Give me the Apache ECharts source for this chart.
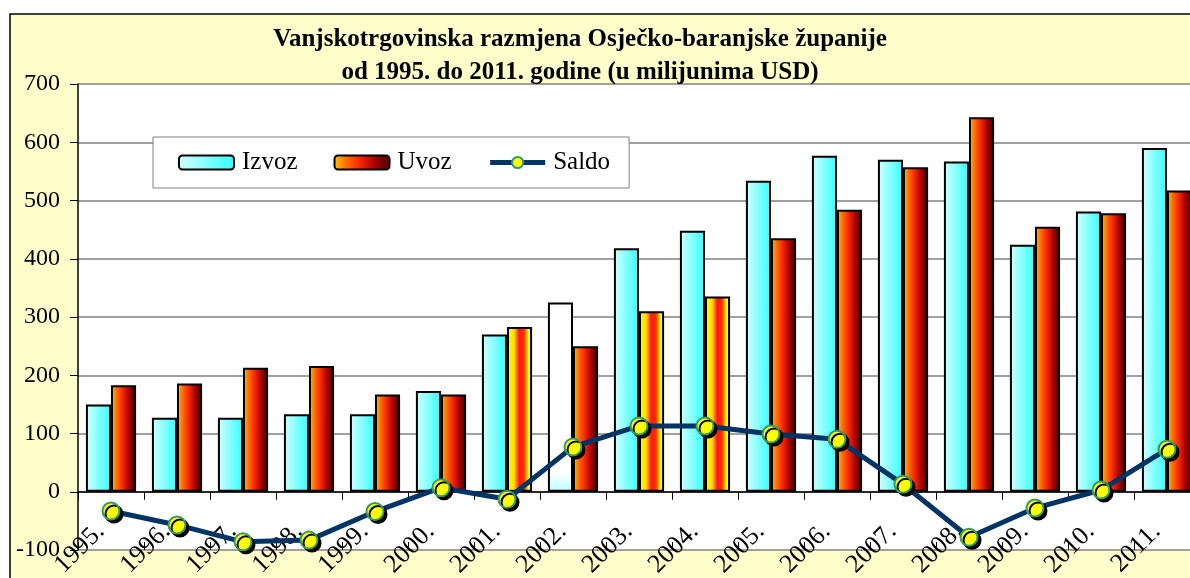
<!DOCTYPE html>
<html>
<head>
<meta charset="utf-8">
<script src="https://cdn.jsdelivr.net/npm/echarts@6/dist/echarts.min.js"></script>
<style>
  html, body { margin: 0; padding: 0; background: #fff; }
  #main { width: 1190px; height: 578px; }
</style>
</head>
<body>
<div id="main"></div>
<script>
// godine
var years = ['1995.', '1996.', '1997.', '1998.', '1999.', '2000.', '2001.', '2002.', '2003.',
             '2004.', '2005.', '2006.', '2007.', '2008.', '2009.', '2010.', '2011.'];
// u milijunima USD
var izvoz = [150, 127, 127, 133, 133, 173, 270, 325, 418, 448, 534, 577, 570, 567, 424, 481, 590];
var uvoz  = [183, 186, 213, 216, 167, 167, 283, 250, 310, 335, 435, 484, 557, 643, 455, 478, 517];
var saldo = [-33, -57, -86, -83, -34, 7, -13, 77, 113, 113, 99, 90, 13, -78, -28, 3, 73];
var yTicks = { min: -100, max: 700, step: 100 };

var serif = '"Liberation Serif", "Times New Roman", serif';

var cyanFill = new echarts.graphic.LinearGradient(0, 0, 1, 0, [
    { offset: 0, color: '#D4FFFF' },
    { offset: 1, color: '#33FFFF' }
]);
var whiteFill = new echarts.graphic.LinearGradient(0, 0, 0, 1, [
    { offset: 0, color: '#FFFFFF' },
    { offset: 0.9, color: '#FFFFFF' },
    { offset: 1, color: '#B8FFFF' }
]);
var fireFill = new echarts.graphic.LinearGradient(0, 0, 1, 0, [
    { offset: 0, color: '#FFC800' },
    { offset: 0.25, color: '#FF6400' },
    { offset: 0.5, color: '#F02000' },
    { offset: 0.75, color: '#A00000' },
    { offset: 0.9, color: '#600000' },
    { offset: 1, color: '#900000' }
]);
var yellowFill = new echarts.graphic.LinearGradient(0, 0, 1, 0, [
    { offset: 0, color: '#FFFF00' },
    { offset: 0.28, color: '#FFE000' },
    { offset: 0.48, color: '#FF1818' },
    { offset: 0.68, color: '#FF3000' },
    { offset: 0.85, color: '#FFFF00' },
    { offset: 1, color: '#FFFF00' }
]);

// a few bars are drawn differently in the original
var izvozData = izvoz.map(function (v, i) {
    if (i === 7) return { value: v, itemStyle: { color: whiteFill } };
    return v;
});
var uvozData = uvoz.map(function (v, i) {
    if (i === 6 || i === 8 || i === 9) return { value: v, itemStyle: { color: yellowFill } };
    return v;
});

var chart = echarts.init(document.getElementById('main'), null, { renderer: 'canvas' });

var option = {
    backgroundColor: '#FFFFFF',
    animation: false,
    graphic: [{
        type: 'rect',
        z: -10,
        shape: { x: 10, y: 14, width: 1200, height: 600 },
        style: { fill: '#FFFFCC', stroke: '#000', lineWidth: 1.5 }
    }],
    title: {
        text: 'Vanjskotrgovinska razmjena Osječko-baranjske županije\nod 1995. do 2011. godine (u milijunima USD)',
        left: 575,
        top: 18,
        textAlign: 'center',
        textStyle: {
            fontFamily: serif,
            fontSize: 25,
            fontWeight: 'bold',
            color: '#000',
            lineHeight: 33
        }
    },
    legend: {
        left: 153,
        top: 137,
        orient: 'horizontal',
        backgroundColor: '#FFFFFF',
        borderColor: '#808080',
        borderWidth: 1,
        padding: [13, 19, 13, 25],
        itemWidth: 55,
        itemHeight: 14,
        itemGap: 36,
        data: ['Izvoz', 'Uvoz', { name: 'Saldo', lineStyle: { width: 5 } }],
        textStyle: { fontFamily: serif, fontSize: 25, color: '#000', padding: [0, 0, 0, 3] }
    },
    grid: {
        left: 78,
        top: 84,
        width: 1122,
        height: 466,
        outerBoundsMode: 'none',
        containLabel: false,
        show: true,
        backgroundColor: '#FFFFFF',
        borderWidth: 0
    },
    xAxis: [{
        type: 'category',
        data: years,
        boundaryGap: true,
        axisLine: { onZero: true, lineStyle: { color: '#000', width: 1.5 } },
        axisTick: { show: true, length: 8, lineStyle: { color: '#000', width: 1 } },
        axisLabel: {
            rotate: 45,
            margin: -33,
            padding: [0, 15, 0, 0],
            fontFamily: serif,
            fontSize: 26,
            color: '#000',
            interval: 0
        },
        splitLine: { show: false }
    }, {
        type: 'category',
        data: years,
        position: 'bottom',
        boundaryGap: true,
        axisLine: { show: false, onZero: true },
        axisTick: { show: true, inside: true, length: 8, lineStyle: { color: '#000', width: 1 } },
        axisLabel: { show: false },
        splitLine: { show: false }
    }],
    yAxis: {
        type: 'value',
        min: yTicks.min,
        max: yTicks.max,
        interval: yTicks.step,
        axisLine: { show: true, lineStyle: { color: '#000', width: 1.5 } },
        axisTick: { show: true, length: 8, lineStyle: { color: '#000' } },
        axisLabel: {
            margin: 18,
            fontFamily: serif,
            fontSize: 24,
            color: '#000'
        },
        splitLine: { show: true, lineStyle: { color: '#808080', width: 1.5 } }
    },
    series: [{
        name: 'Izvoz',
        type: 'bar',
        data: izvozData,
        barGap: '0%',
        barCategoryGap: '24%',
        itemStyle: { color: cyanFill, borderColor: '#000', borderWidth: 2 },
        z: 2
    }, {
        name: 'Uvoz',
        type: 'bar',
        data: uvozData,
        itemStyle: { color: fireFill, borderColor: '#000', borderWidth: 2 },
        z: 2
    }, {
        name: 'Saldo',
        type: 'line',
        data: saldo,
        symbol: 'circle',
        symbolSize: 17,
        lineStyle: { color: '#003366', width: 5 },
        itemStyle: {
            color: '#FFFF00',
            borderColor: '#339966',
            borderWidth: 2,
            shadowColor: 'rgba(0,0,0,1)',
            shadowOffsetX: 3,
            shadowOffsetY: 3,
            shadowBlur: 0
        },
        z: 5
    }]
};

chart.setOption(option);
</script>
</body>
</html>
